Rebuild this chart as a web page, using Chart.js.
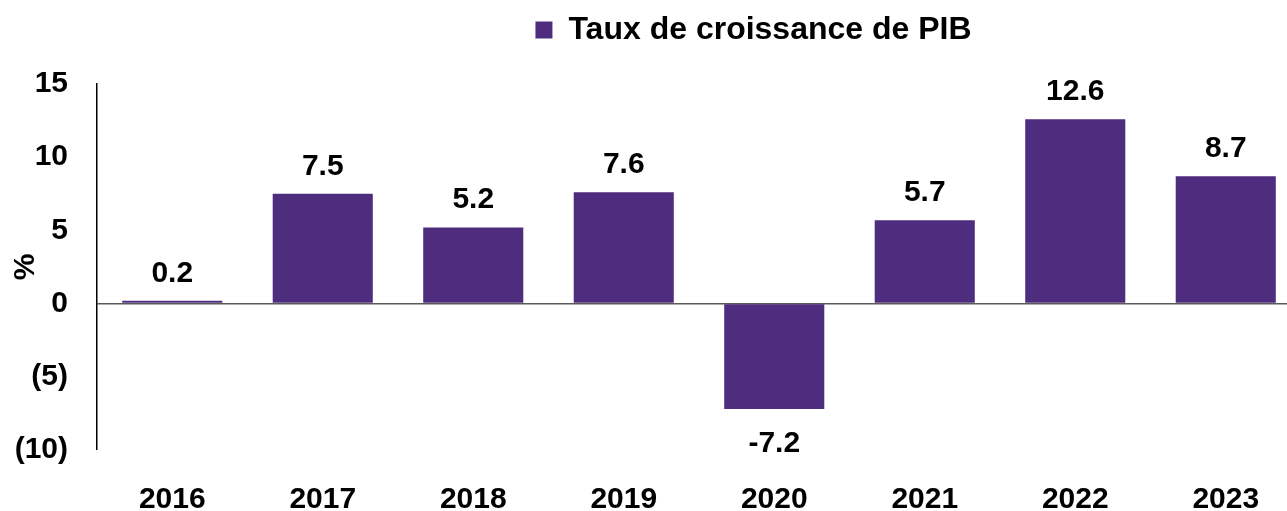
<!DOCTYPE html>
<html lang="fr">
<head>
<meta charset="utf-8">
<title>Taux de croissance de PIB</title>
<script src="https://cdn.jsdelivr.net/npm/chart.js@4.4.1/dist/chart.umd.min.js"></script>
<style>
  html, body { margin: 0; padding: 0; background: #fff; overflow: hidden; }
  #wrap { width: 1301px; height: 511px; }
</style>
</head>
<body>
<div id="wrap"><canvas id="gdpChart" width="1301" height="511"></canvas></div>
<script>
// Data
const years = ['2016', '2017', '2018', '2019', '2020', '2021', '2022', '2023'];
const growth = [0.2, 7.5, 5.2, 7.6, -7.2, 5.7, 12.6, 8.7];
const yTicks = [-10, -5, 0, 5, 10, 15];

const FONT = '"Liberation Sans", Arial, sans-serif';
const PURPLE = '#4e2d7e';

// Value labels above / below each bar
const valueLabels = {
    id: 'valueLabels',
    afterDatasetsDraw(chart) {
        const ctx = chart.ctx;
        const meta = chart.getDatasetMeta(0);
        ctx.save();
        ctx.font = 'bold 30px ' + FONT;
        ctx.fillStyle = '#000';
        ctx.textAlign = 'center';
        ctx.textBaseline = 'alphabetic';
        meta.data.forEach((bar, i) => {
            const v = growth[i];
            const y = v >= 0 ? bar.y - 19 : bar.y + 43;
            ctx.fillText(v.toFixed(1), bar.x, y);
        });
        ctx.restore();
    }
};

// Legend sits right of centre and takes the whole top band
const legendBand = {
    id: 'legendBand',
    beforeLayout(chart) {
        const lg = chart.legend;
        if (lg && !lg._patched) {
            const fit = lg.fit;
            lg.fit = function () { fit.call(this); this.height = 84; };
            lg._patched = true;
        }
    },
    afterLayout(chart) {
        chart.legend.left += 103;
        chart.legend.right += 103;
    }
};

new Chart(document.getElementById('gdpChart'), {
    type: 'bar',
    data: {
        labels: years,
        datasets: [{
            label: 'Taux de croissance de PIB',
            data: growth,
            backgroundColor: PURPLE,
            borderWidth: 0,
            categoryPercentage: 1,
            barPercentage: 0.665
        }]
    },
    options: {
        responsive: false,
        animation: false,
        devicePixelRatio: 1,
        layout: { padding: 0 },
        plugins: {
            tooltip: { enabled: false },
            legend: {
                position: 'top',
                labels: {
                    color: '#000',
                    font: { family: FONT, size: 32, weight: 'bold' },
                    boxWidth: 17,
                    boxHeight: 17,
                    padding: 14
                }
            }
        },
        scales: {
            x: {
                grid: { display: false },
                border: { display: false },
                ticks: {
                    color: '#000',
                    font: { family: FONT, size: 30, weight: 'bold' },
                    padding: 24,
                    maxRotation: 0
                },
                afterFit: s => { s.height = 61; }
            },
            y: {
                min: -10,
                max: 15,
                afterBuildTicks: s => { s.ticks = yTicks.map(v => ({ value: v })); },
                grid: {
                    drawTicks: false,
                    color: c => c.tick && c.tick.value === 0 ? '#5a5a5a' : 'rgba(0,0,0,0)',
                    lineWidth: c => c.tick && c.tick.value === 0 ? 1.5 : 0
                },
                border: { display: true, color: '#000', width: 1.5 },
                ticks: {
                    color: '#000',
                    font: { family: FONT, size: 30, weight: 'bold' },
                    padding: 29,
                    callback: v => v < 0 ? '(' + (-v) + ')' : String(v)
                },
                title: {
                    display: true,
                    text: '%',
                    color: '#000',
                    font: { family: FONT, size: 30, weight: 'bold' },
                    padding: { top: 8, bottom: 4 }
                },
                afterFit: s => { s.width = 97; }
            }
        }
    },
    plugins: [valueLabels, legendBand]
});
</script>
</body>
</html>
